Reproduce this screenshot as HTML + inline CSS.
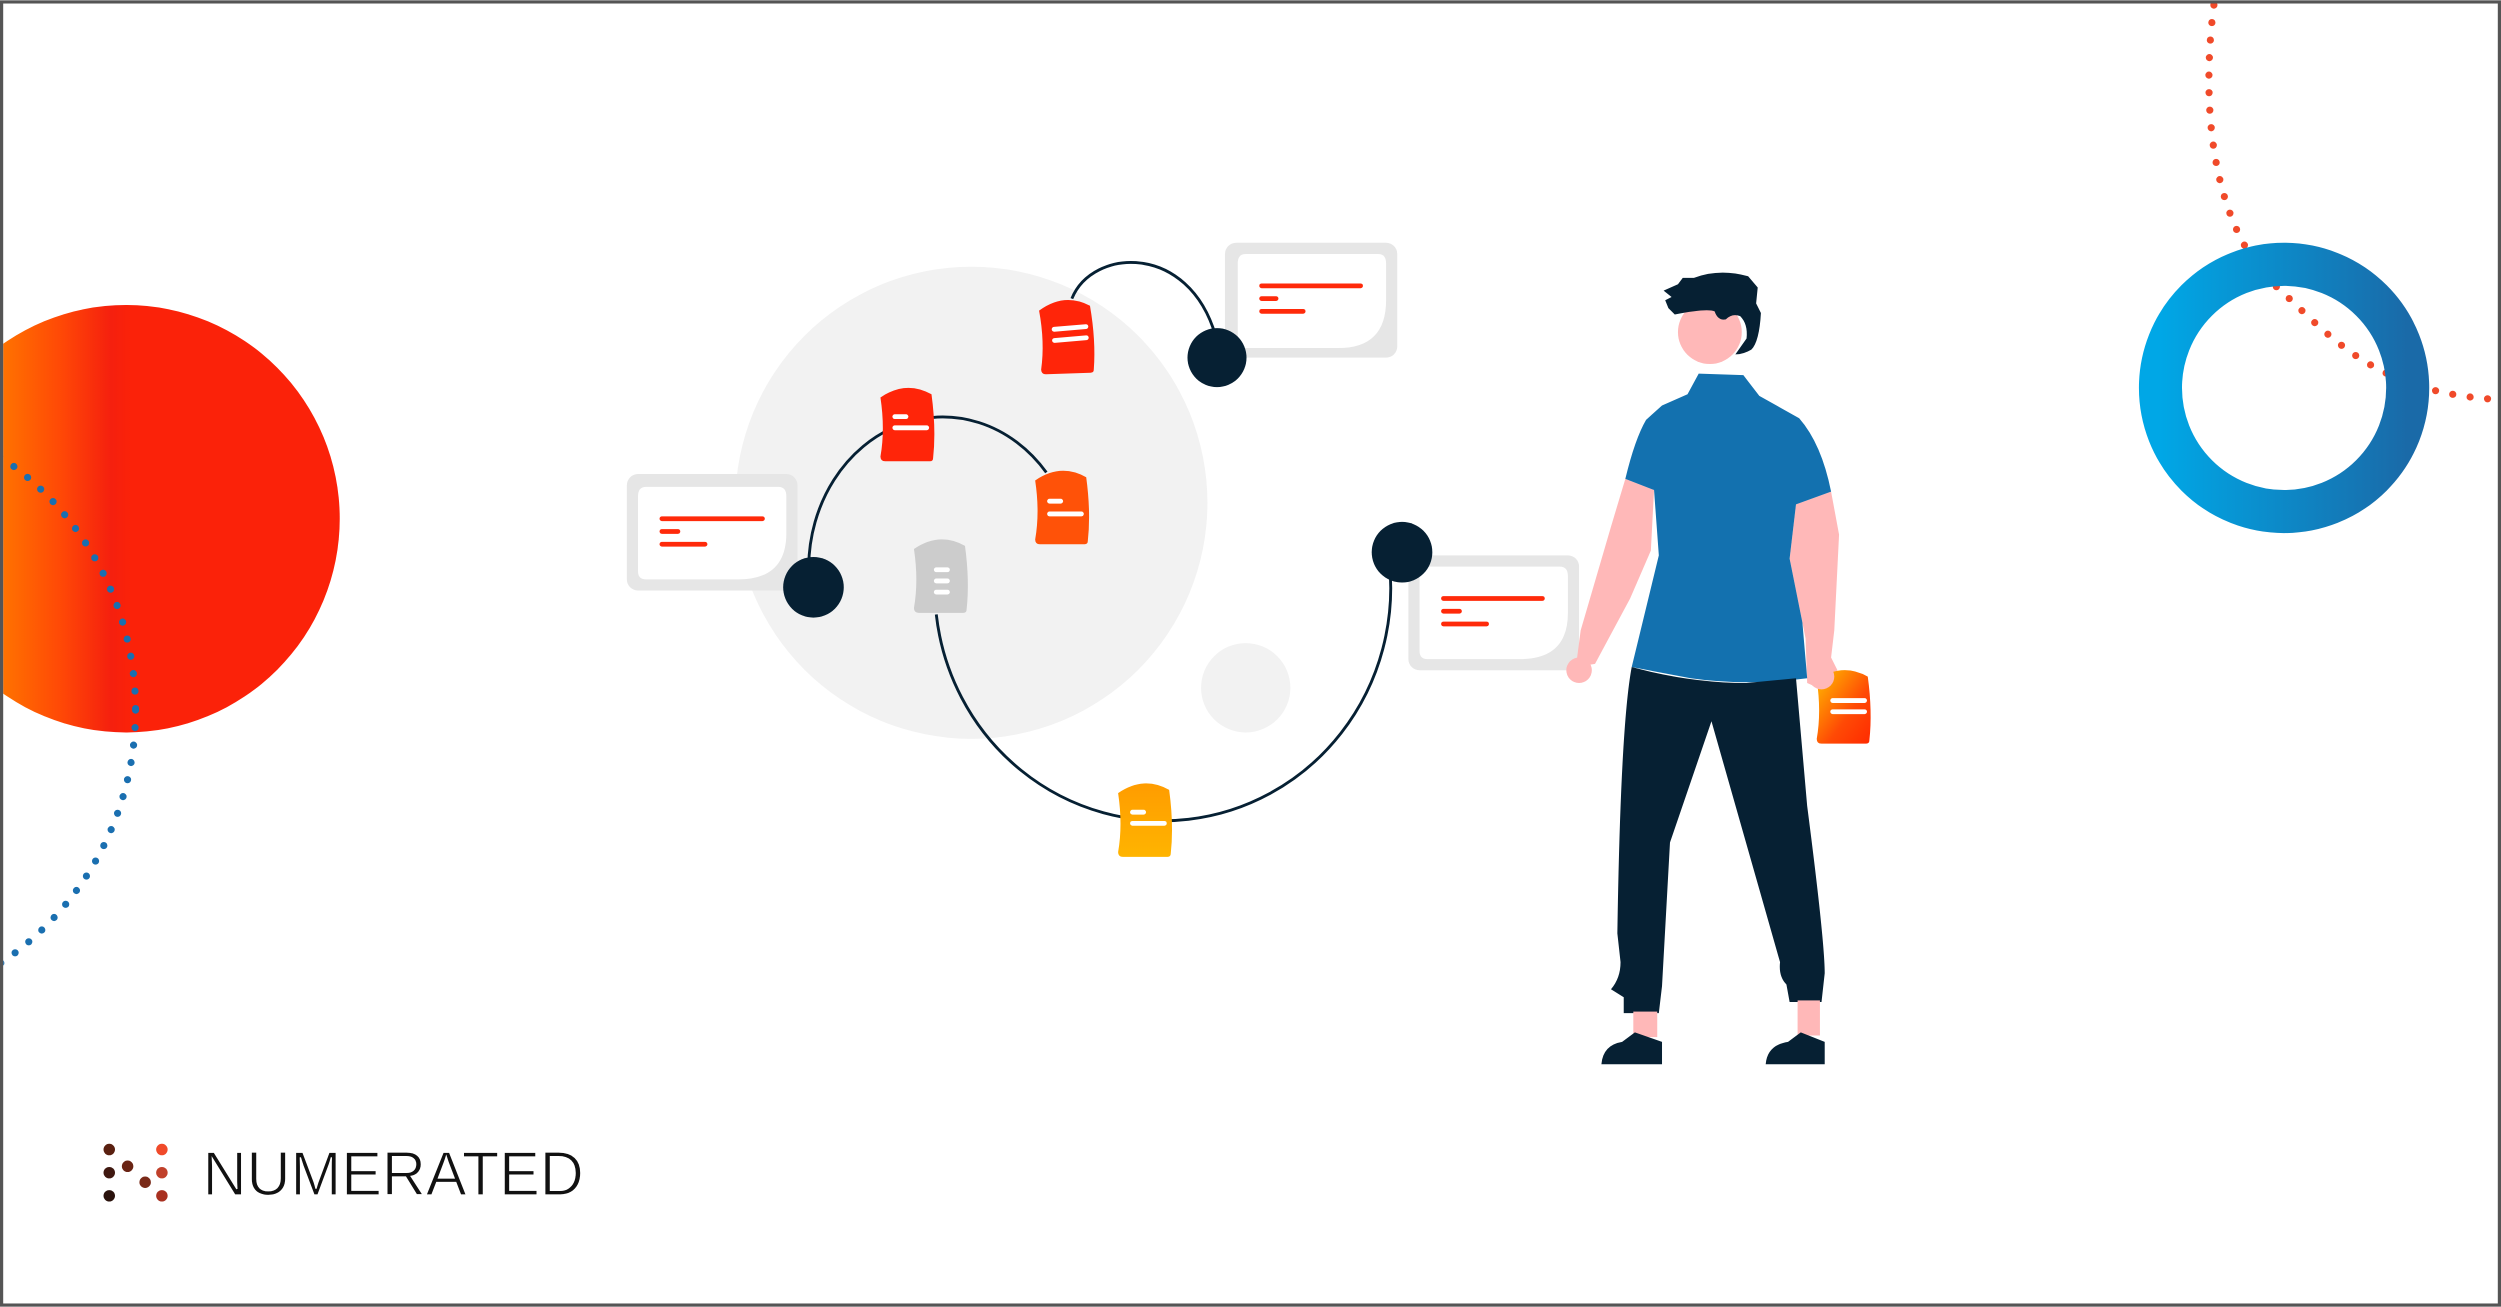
<!DOCTYPE html>
<html><head><meta charset="utf-8"><style>
html,body{margin:0;padding:0;background:#fff;}
svg{display:block;}
</style></head><body>
<svg width="2501" height="1307" viewBox="0 0 1568 819" xmlns="http://www.w3.org/2000/svg">
<defs>
<linearGradient id="rg" x1="0" y1="0" x2="82" y2="0" gradientUnits="userSpaceOnUse">
<stop offset="0" stop-color="#ff7400"/><stop offset="0.45" stop-color="#ff4a06"/><stop offset="0.85" stop-color="#f5200e"/><stop offset="1" stop-color="#fb2209"/></linearGradient>
<linearGradient id="bg" x1="0" y1="0" x2="1" y2="0">
<stop offset="0" stop-color="#00a7e6"/><stop offset="1" stop-color="#1a6aa8"/></linearGradient>
<linearGradient id="yg" x1="0" y1="0" x2="0" y2="1">
<stop offset="0" stop-color="#ff9c00"/><stop offset="1" stop-color="#ffb400"/></linearGradient>
<linearGradient id="mg" x1="0" y1="0" x2="1" y2="1">
<stop offset="0" stop-color="#ffc000"/><stop offset="0.6" stop-color="#ff4a05"/><stop offset="1" stop-color="#ff2a00"/></linearGradient>
<clipPath id="cl"><rect x="2" y="2" width="1564" height="815"/></clipPath>
<path id="doc" d="M2,8 Q18,-3 34,6 Q37,28 35,46 Q35,48 33,48 L5,48 Q2,48 2,45 Q5,28 2,8 Z"/>
</defs>
<g clip-path="url(#cl)">
<circle cx="79" cy="325" r="134" fill="url(#rg)"/>
<circle cx="-106" cy="445" r="191" fill="none" stroke="#1a6fb0" stroke-width="4.5" stroke-linecap="round" stroke-dasharray="0 11"/>
<path d="M1388,3 C1378,80 1392,150 1430,182 C1462,212 1490,245 1562,250" fill="none" stroke="#f04a2a" stroke-width="4.5" stroke-linecap="round" stroke-dasharray="0 11"/>
<circle cx="1432" cy="243" r="77.5" fill="none" stroke="url(#bg)" stroke-width="27"/>
</g>
<rect x="1" y="1" width="1566" height="817" fill="none" stroke="#555" stroke-width="2"/>

<circle cx="609" cy="315" r="148" fill="#f2f2f2"/>
<circle cx="781" cy="431" r="28" fill="#f2f2f2"/>

<g>
<rect x="768" y="152" width="108" height="72" rx="7" fill="#e6e6e6"/>
<path d="M781,159 H864 Q869,159 869,165 V188 Q869,218 839,218 H781 Q776,218 776,213 V165 Q776,159 781,159 Z" fill="#fff"/>
<g stroke="#ff2a0a" stroke-width="3" stroke-linecap="round"><line x1="791" y1="179" x2="853" y2="179"/><line x1="791" y1="187" x2="800" y2="187"/><line x1="791" y1="195" x2="817" y2="195"/></g>
</g>
<g>
<rect x="393" y="297" width="107" height="73" rx="7" fill="#e6e6e6"/>
<path d="M405,305 H488 Q493,305 493,311 V334 Q493,363 463,363 H405 Q400,363 400,358 V311 Q400,305 405,305 Z" fill="#fff"/>
<g stroke="#ff2a0a" stroke-width="3" stroke-linecap="round"><line x1="415" y1="325" x2="478" y2="325"/><line x1="415" y1="333" x2="425" y2="333"/><line x1="415" y1="341" x2="442" y2="341"/></g>
</g>
<g>
<rect x="883" y="348" width="107" height="72" rx="7" fill="#e6e6e6"/>
<path d="M895,355 H978 Q983,355 983,361 V384 Q983,413 953,413 H895 Q890,413 890,408 V361 Q890,355 895,355 Z" fill="#fff"/>
<g stroke="#ff2a0a" stroke-width="3" stroke-linecap="round"><line x1="905" y1="375" x2="967" y2="375"/><line x1="905" y1="383" x2="915" y2="383"/><line x1="905" y1="391" x2="932" y2="391"/></g>
</g>

<g fill="none" stroke="#062033" stroke-width="1.8">
<path d="M672,187 C685,155 745,152 762,210"/>
<path d="M507,355 A84,95 0 0 1 656,296"/>
<path d="M587,385 A142,145 0 0 0 871,352"/>
</g>
<g fill="#062033">
<circle cx="763" cy="224" r="18.5"/>
<circle cx="510" cy="368" r="19"/>
<circle cx="879" cy="346" r="19"/>
</g>

<g transform="translate(650,186) rotate(-2 18 24)"><use href="#doc" fill="#ff2509"/><g stroke="#fff" stroke-width="3" stroke-linecap="round"><line x1="11" y1="20" x2="31" y2="19"/><line x1="11" y1="27" x2="31" y2="26"/></g></g>
<g transform="translate(550,241)"><use href="#doc" fill="#ff2509"/><g stroke="#fff" stroke-width="3" stroke-linecap="round"><line x1="11" y1="20" x2="18" y2="20"/><line x1="11" y1="27" x2="31" y2="27"/></g></g>
<g transform="translate(647,293)"><use href="#doc" fill="#ff5208"/><g stroke="#fff" stroke-width="3" stroke-linecap="round"><line x1="11" y1="21" x2="18" y2="21"/><line x1="11" y1="29" x2="31" y2="29"/></g></g>
<g transform="translate(571,336)"><use href="#doc" fill="#cccccc"/><g stroke="#fff" stroke-width="3" stroke-linecap="round"><line x1="16" y1="21" x2="23" y2="21"/><line x1="16" y1="28" x2="23" y2="28"/><line x1="16" y1="35" x2="23" y2="35"/></g></g>
<g transform="translate(699,489)"><use href="#doc" fill="url(#yg)"/><g stroke="#fff" stroke-width="3" stroke-linecap="round"><line x1="11" y1="20" x2="18" y2="20"/><line x1="11" y1="27" x2="31" y2="27"/></g></g>

<circle cx="1072" cy="208" r="20" fill="#ffb8b8"/>
<path d="M1043,182 L1052,178 L1055,174 L1062,174 Q1078,168 1096,173 L1102,180 L1101,190 L1104,196 Q1103,214 1098,219 Q1093,222 1088,222 L1095,212 Q1096,203 1091,198 Q1086,196 1082,200 Q1077,201 1075,195 Q1070,193 1050,197 L1046,193 L1044,188 L1048,186 Z" fill="#062033"/>
<path d="M1019,300 L1010,330 L991,395 L988,418 L1000,416 L1022,375 L1035,345 L1037,307 Z" fill="#ffb8b8"/>
<circle cx="990" cy="420" r="8" fill="#ffb8b8"/>
<path d="M1126,316 L1148,308 L1153,335 L1150,395 L1148,412 L1152,420 L1142,432 L1133,428 L1132,400 L1122,350 Z" fill="#ffb8b8"/>
<path d="M1065,234 L1093,235 L1103,248 L1128,262 Q1142,278 1148,308 L1126,316 L1122,350 L1130,390 L1133,425 Q1095,430 1060,425 L1023,418 L1040,348 L1037,307 L1019,300 Q1025,275 1032,263 L1042,254 L1058,247 Z" fill="#1371af"/>
<path d="M1023,418 Q1060,428 1095,428 L1126,425 L1133,505 Q1144,590 1144,610 L1142,628 L1122,628 L1120,617 Q1115,612 1116,603 L1073,452 L1047,528 L1042,618 L1040,635 L1018,635 L1018,625 L1010,620 Q1016,613 1016,603 L1014,585 Q1016,455 1023,418 Z" fill="#062033"/>
<rect x="1024" y="634" width="15" height="16" fill="#ffb8b8"/>
<rect x="1127" y="627" width="14" height="22" fill="#ffb8b8"/>
<path d="M1004,667 L1042,667 L1042,653 L1025,647 L1017,653 Q1005,655 1004,667 Z" fill="#062033"/>
<path d="M1107,667 L1144,667 L1144,653 L1129,647 L1121,653 Q1108,655 1107,667 Z" fill="#062033"/>
<g transform="translate(1137,418)"><use href="#doc" fill="url(#mg)"/><g stroke="#fff" stroke-width="3" stroke-linecap="round"><line x1="12" y1="21" x2="32" y2="21"/><line x1="12" y1="28" x2="32" y2="28"/></g></g>
<circle cx="1142" cy="424" r="8" fill="#ffb8b8"/>

<circle cx="68.5" cy="720.5" r="3.6" fill="#5a2010"/>
<circle cx="68.5" cy="735" r="3.6" fill="#3f1810"/>
<circle cx="68.5" cy="749.5" r="3.6" fill="#2a120c"/>
<circle cx="80" cy="731" r="3.6" fill="#6a2414"/>
<circle cx="91" cy="741" r="3.6" fill="#7a2a18"/>
<circle cx="101.5" cy="720.5" r="3.6" fill="#f04a2a"/>
<circle cx="101.5" cy="735" r="3.6" fill="#c0402a"/>
<circle cx="101.5" cy="749.5" r="3.6" fill="#a83020"/>
<text x="127" y="749" font-family="Liberation Sans, sans-serif" font-size="39" fill="#111" textLength="239" lengthAdjust="spacingAndGlyphs" stroke="#fff" stroke-width="0.8">NUMERATED</text>
</svg>
</body></html>
